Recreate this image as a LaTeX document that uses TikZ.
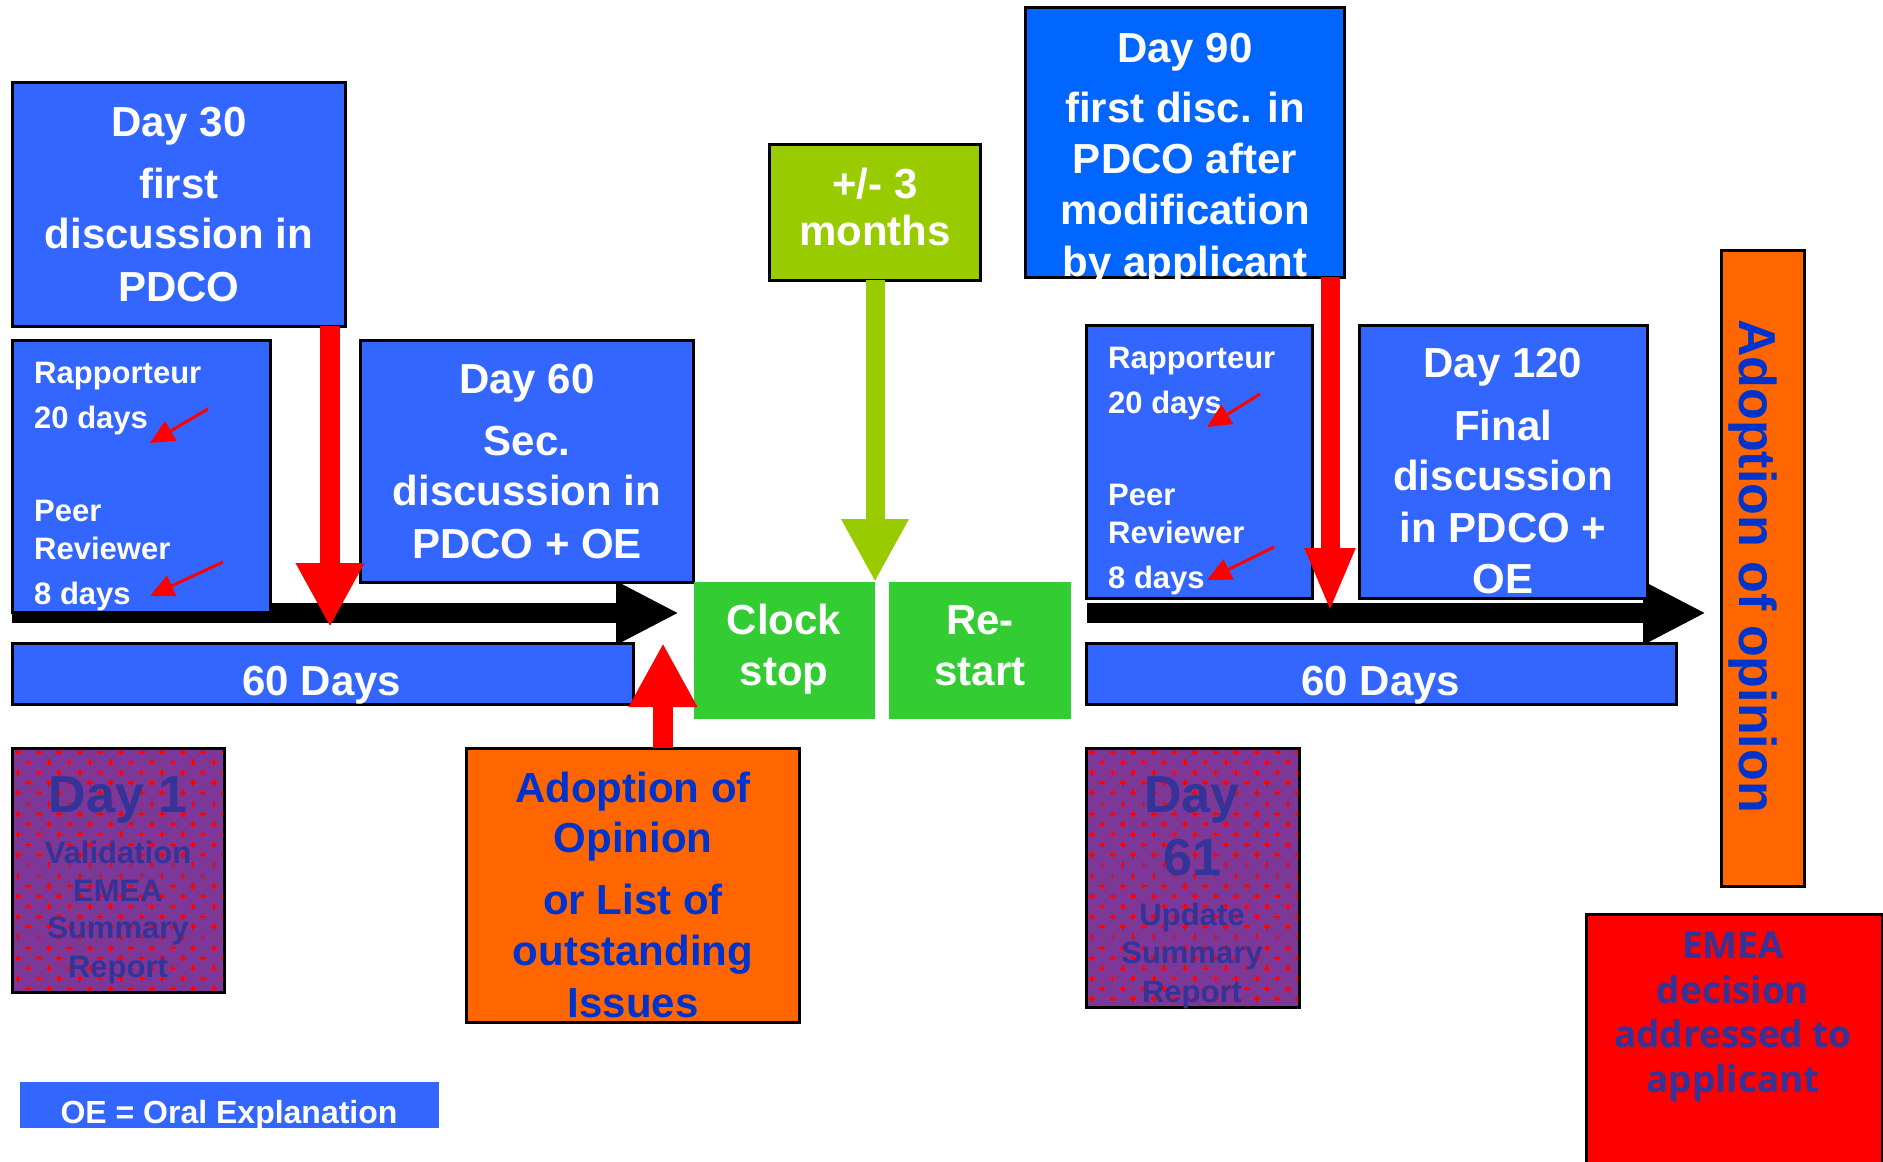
\documentclass[tikz,border=0pt]{standalone}
\usepackage{fontspec}
\setmainfont{Liberation Sans}[BoldFont={Liberation Sans Bold}]
\newfontfamily\osans{Open Sans}
\usetikzlibrary{arrows.meta}
\definecolor{boxblue}{HTML}{3366FF}
\definecolor{nineblue}{HTML}{0066FF}
\definecolor{orng}{HTML}{FF6600}
\definecolor{grn}{HTML}{33CC33}
\definecolor{ygrn}{HTML}{99CC00}
\definecolor{txtblue}{HTML}{0033CC}
\definecolor{dkblue}{HTML}{333399}
\definecolor{purp}{RGB}{125,55,150}
\newcommand{\fsz}[2]{\fontsize{#1}{#2}\selectfont}
\begin{document}
\begin{tikzpicture}[x=1pt,y=-1pt,
  box/.style={draw=black, line width=3pt, inner sep=0pt, outer sep=0pt, anchor=north west},
  flat/.style={inner sep=0pt, outer sep=0pt, anchor=north west},
  wt/.style={text=white, font=\bfseries\fsz{42}{50}, anchor=base, inner sep=0pt},
  wsm/.style={text=white, font=\bfseries\fsz{31}{38}, anchor=base west, inner sep=0pt},
  bt/.style={text=txtblue, font=\bfseries\fsz{42}{50}, anchor=base, inner sep=0pt},
  pt/.style={text=dkblue, font=\bfseries\fsz{31}{38}, anchor=base, inner sep=0pt},
  blk/.style={line width=20pt, black, -{Triangle[width=59pt,length=63pt]}},
  redarr/.style={line width=20pt, red, -{Triangle[width=64pt,length=64pt]}},
  redarrb/.style={line width=19pt, red, -{Triangle[width=46pt,length=64pt]}},
  grnarr/.style={line width=19pt, ygrn, -{Triangle[width=63pt,length=63pt]}},
  smallarr/.style={line width=3pt, red, -{Triangle[width=22pt,length=24pt]}}
]
\useasboundingbox (0,0) rectangle (1883,1162);

% timeline arrows (behind boxes)
\coordinate (tl1s) at (12,613);
\coordinate (tl1e) at (679,613);
\coordinate (tl2s) at (1087,613);
\coordinate (tl2e) at (1706,613);
\draw[blk] (tl1s) -- (tl1e);
\draw[blk] (tl2s) -- (tl2e);

% boxes
\node[box, fill=boxblue, minimum width=333pt, minimum height=244pt] (d30) at (12,82) {};
\node[box, fill=boxblue, minimum width=258pt, minimum height=272pt] (rapL) at (12,340) {};
\node[box, fill=boxblue, minimum width=333pt, minimum height=242pt] (d60) at (360,340) {};
\node[box, fill=ygrn, minimum width=211pt, minimum height=136pt] (plus3) at (769,144) {};
\node[flat, fill=grn, minimum width=181pt, minimum height=137pt] (clk) at (694,582) {};
\node[flat, fill=grn, minimum width=182pt, minimum height=137pt] (rst) at (889,582) {};
\node[box, fill=nineblue, minimum width=319pt, minimum height=270pt] (d90) at (1025,7) {};
\node[box, fill=boxblue, minimum width=226pt, minimum height=273pt] (rapR) at (1086,325) {};
\node[box, fill=boxblue, minimum width=288pt, minimum height=273pt] (d120) at (1359,325) {};
\node[box, fill=boxblue, minimum width=621pt, minimum height=61pt] (bar1) at (12,643) {};
\node[box, fill=boxblue, minimum width=590pt, minimum height=61pt] (bar2) at (1086,643) {};
\node[box, fill=orng, minimum width=83pt, minimum height=636pt] (adopV) at (1721,250) {};
\node[box, fill=orng, minimum width=333pt, minimum height=274pt] (aoo) at (466,748) {};
\node[box, fill=red, minimum width=296pt, minimum height=270pt] (emea) at (1586,914) {};
\node[flat, fill=boxblue, minimum width=419pt, minimum height=46pt] (oe) at (20,1082) {};

% patterned boxes
\node[flat, fill=purp, minimum width=212pt, minimum height=244pt] (day1) at (12,748) {};
\node[flat, fill=purp, minimum width=213pt, minimum height=259pt] (day61) at (1086,748) {};
\begin{scope}
  \clip (day1.north west) rectangle (day1.south east);
  \foreach \i in {0,...,11} \foreach \j in {0,...,24} {
    \pgfmathsetmacro\cx{18+\i*20.6+mod(\j,2)*10.3}
    \pgfmathsetmacro\cy{752+\j*10.3}
    \fill[red] ({\cx-3},{\cy-0.8}) rectangle ({\cx+3},{\cy+0.8});
    \fill[red] ({\cx-0.8},{\cy-3}) rectangle ({\cx+0.8},{\cy+3});
  }
\end{scope}
\begin{scope}
  \clip (day61.north west) rectangle (day61.south east);
  \foreach \i in {0,...,11} \foreach \j in {0,...,26} {
    \pgfmathsetmacro\cx{1092+\i*20.6+mod(\j,2)*10.3}
    \pgfmathsetmacro\cy{752+\j*10.3}
    \fill[red] ({\cx-3},{\cy-0.8}) rectangle ({\cx+3},{\cy+0.8});
    \fill[red] ({\cx-0.8},{\cy-3}) rectangle ({\cx+0.8},{\cy+3});
  }
\end{scope}
\draw[line width=3pt] (day1.north west) rectangle (day1.south east);
\draw[line width=3pt] (day61.north west) rectangle (day61.south east);

% texts
\foreach \t/\y [count=\k] in {Day 30/136, first/198, discussion in/248, PDCO/301}
  \node[wt] (d30t\k) at (179,\y) {\t};
\foreach \t/\y [count=\k] in {Day 60/393, Sec./455, discussion in/505, PDCO + OE/558}
  \node[wt] (d60t\k) at (527,\y) {\t};
\foreach \t/\y [count=\k] in {Day 90/62, first disc. in/122, PDCO after/173, modification/224, by applicant/276}
  \node[wt] (d90t\k) at (1185,\y) {\t};
\foreach \t/\y [count=\k] in {Day 120/377, Final/440, discussion/490, in PDCO +/542, OE/593}
  \node[wt] (d120t\k) at (1503,\y) {\t};
\foreach \t/\y [count=\k] in {{+/- 3}/198, months/245}
  \node[wt] (p3t\k) at (875,\y) {\t};
\foreach \t/\y [count=\k] in {Clock/634, stop/685}
  \node[wt] (clkt\k) at (784,\y) {\t};
\foreach \t/\y [count=\k] in {Re-/634, start/685}
  \node[wt] (rstt\k) at (980,\y) {\t};
\node[wt] (bar1t) at (322,695) {60 Days};
\node[wt] (bar2t) at (1381,695) {60 Days};
\foreach \t/\y [count=\k] in {Rapporteur/383, 20 days/428, Peer/521, Reviewer/559, 8 days/604}
  \node[wsm] (rlt\k) at (34,\y) {\t};
\foreach \t/\y [count=\k] in {Rapporteur/368, 20 days/413, Peer/505, Reviewer/543, 8 days/588}
  \node[wsm] (rrt\k) at (1108,\y) {\t};
\foreach \t/\y [count=\k] in {Adoption of/802, Opinion/852, or List of/914, outstanding/965, Issues/1017}
  \node[bt] (aoot\k) at (633,\y) {\t};
\node[rotate=-90, text=txtblue, font=\bfseries\fsz{52}{60}, inner sep=0pt] (adoptt) at (1753,566) {Adoption of opinion};
\node[text=dkblue, font=\bfseries\fsz{52}{60}, anchor=base, inner sep=0pt] (d1t) at (118,812) {Day 1};
\foreach \t/\y [count=\k] in {Validation/863, EMEA/901, Summary/938, Report/977}
  \node[pt] (d1t\k) at (118,\y) {\t};
\node[text=dkblue, font=\bfseries\fsz{52}{60}, anchor=base, inner sep=0pt] (d61a) at (1192,812) {Day};
\node[text=dkblue, font=\bfseries\fsz{52}{60}, anchor=base, inner sep=0pt] (d61b) at (1192,875) {61};
\foreach \t/\y [count=\k] in {Update/925, Summary/963, Report/1002}
  \node[pt] (d61t\k) at (1192,\y) {\t};
\foreach \t/\y [count=\k] in {EMEA/958, decision/1003, addressed to/1047, applicant/1092}
  \node[text=dkblue, font=\osans\bfseries\fsz{37}{44}, anchor=base, inner sep=0pt] (emt\k) at (1733,\y) {\t};
\node[text=white, font=\bfseries\fsz{32}{38}, anchor=base, inner sep=0pt] (oet) at (229,1123) {OE = Oral Explanation};

% big connectors
\coordinate (t1) at (330,627);
\coordinate (t2) at (1330,612);
\coordinate (ru) at (663,643);
\draw[redarr] (d30.south -| t1) -- (t1);
\draw[redarrb] (d90.south -| t2) -- (t2);
\draw[redarr] (aoo.north -| ru) -- (ru);
\draw[grnarr] (plus3.south -| clk.north east) -- (clk.north east);

% small arrows
\coordinate (s1a) at (208,409); \coordinate (s1b) at (150,443);
\coordinate (s2a) at (223,562); \coordinate (s2b) at (150,596);
\coordinate (s3a) at (1260,394); \coordinate (s3b) at (1207,427);
\coordinate (s4a) at (1274,547); \coordinate (s4b) at (1207,580);
\draw[smallarr] (s1a) -- (s1b);
\draw[smallarr] (s2a) -- (s2b);
\draw[smallarr] (s3a) -- (s3b);
\draw[smallarr] (s4a) -- (s4b);
\end{tikzpicture}
\end{document}
